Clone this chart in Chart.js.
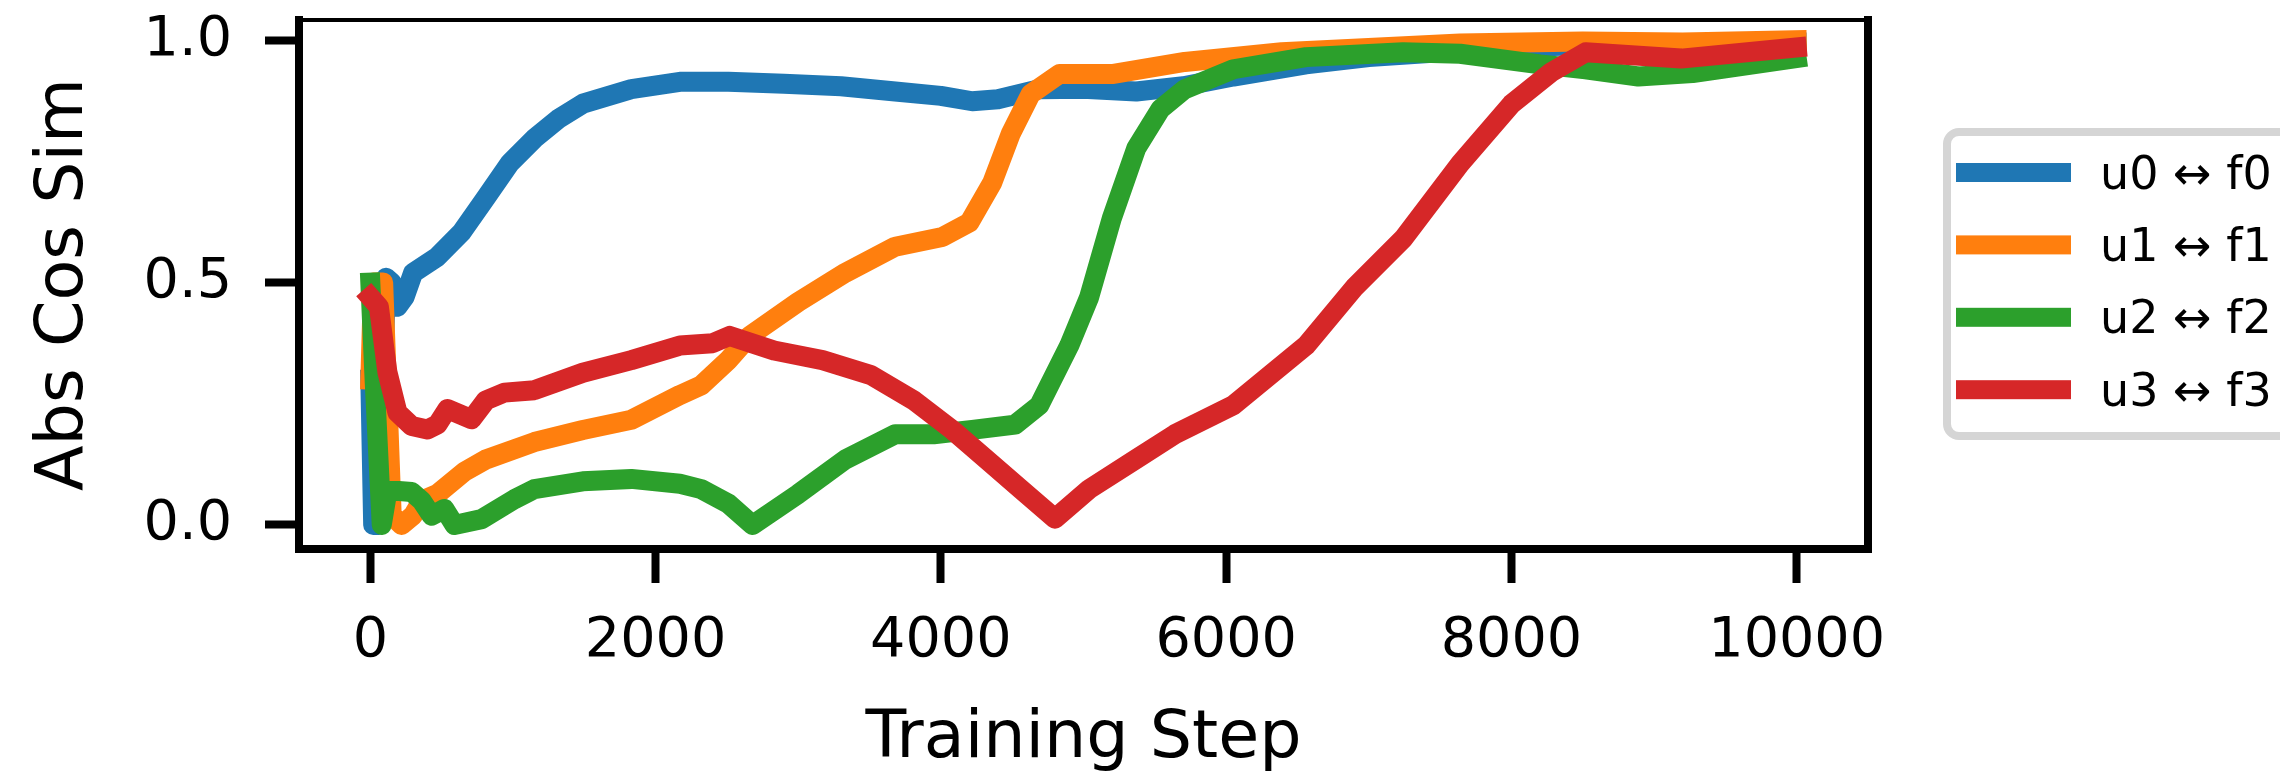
<!DOCTYPE html>
<html>
<head>
<meta charset="utf-8">
<script src="https://cdn.jsdelivr.net/npm/chart.js@4/dist/chart.umd.min.js"></script>
<style>
  body { margin: 0; background: #fff; }
  canvas { display: block; }
</style>
</head>
<body>
<canvas id="simChart" width="2280" height="776"></canvas>
<script>
// data
const seriesLabels = ['u0 \u2194 f0', 'u1 \u2194 f1', 'u2 \u2194 f2', 'u3 \u2194 f3'];
const seriesColors = ['#1f77b4', '#ff7f0e', '#2ca02c', '#d62728'];

const u0Steps = [0, 20, 60, 110, 150, 190, 240, 300, 470, 640, 810, 980, 1150, 1320, 1490, 1830, 2170, 2510, 2900, 3300, 3680, 4000, 4220, 4400, 4690, 5000, 5370, 5700, 6050, 6560, 7000, 7500, 8000, 8500, 9000, 9500, 10000];
const u0Vals  = [0.30, 0.0, 0.0, 0.51, 0.50, 0.45, 0.47, 0.52, 0.553, 0.604, 0.675, 0.747, 0.797, 0.838, 0.869, 0.899, 0.914, 0.914, 0.91, 0.905, 0.894, 0.885, 0.874, 0.878, 0.899, 0.90, 0.894, 0.905, 0.925, 0.95, 0.965, 0.975, 0.985, 0.99, 0.99, 0.992, 0.995];

const u1Steps = [0, 20, 90, 150, 220, 300, 360, 470, 660, 810, 1150, 1490, 1830, 2170, 2320, 2510, 2660, 3000, 3330, 3680, 4010, 4200, 4360, 4490, 4630, 4830, 5200, 5710, 6390, 7070, 7640, 8500, 9200, 10000];
const u1Vals  = [0.30, 0.50, 0.50, 0.02, 0.0, 0.02, 0.05, 0.064, 0.11, 0.135, 0.171, 0.196, 0.217, 0.268, 0.288, 0.34, 0.39, 0.46, 0.52, 0.574, 0.594, 0.624, 0.706, 0.807, 0.889, 0.93, 0.93, 0.955, 0.975, 0.985, 0.993, 0.997, 0.995, 1.0];

const u2Steps = [0, 30, 80, 120, 200, 290, 360, 430, 520, 590, 780, 1010, 1150, 1490, 1830, 2170, 2320, 2510, 2680, 3000, 3330, 3680, 3950, 4220, 4520, 4690, 4900, 5040, 5200, 5370, 5540, 5710, 6050, 6560, 7240, 7640, 8200, 8520, 8890, 9270, 10000];
const u2Vals  = [0.50, 0.30, 0.0, 0.07, 0.07, 0.068, 0.05, 0.019, 0.033, 0.0, 0.012, 0.053, 0.074, 0.09, 0.095, 0.085, 0.074, 0.044, 0.0, 0.064, 0.135, 0.187, 0.187, 0.196, 0.207, 0.247, 0.37, 0.47, 0.634, 0.777, 0.858, 0.899, 0.94, 0.965, 0.975, 0.972, 0.95, 0.94, 0.925, 0.932, 0.963];

const u3Steps = [0, 60, 120, 190, 290, 400, 470, 540, 710, 810, 940, 1150, 1490, 1830, 2170, 2400, 2520, 2830, 3170, 3510, 3810, 4080, 4360, 4560, 4800, 5040, 5370, 5640, 6050, 6560, 6900, 7240, 7640, 8000, 8280, 8520, 9190, 10000];
const u3Vals  = [0.47, 0.45, 0.315, 0.232, 0.204, 0.197, 0.207, 0.239, 0.218, 0.257, 0.273, 0.278, 0.314, 0.34, 0.37, 0.375, 0.39, 0.36, 0.34, 0.309, 0.257, 0.196, 0.125, 0.074, 0.013, 0.074, 0.136, 0.187, 0.247, 0.37, 0.49, 0.59, 0.745, 0.868, 0.934, 0.975, 0.962, 0.985];

const xTicks = [0, 2000, 4000, 6000, 8000, 10000];
const yTicks = [0.0, 0.5, 1.0];

const allSteps = [u0Steps, u1Steps, u2Steps, u3Steps];
const allVals = [u0Vals, u1Vals, u2Vals, u3Vals];

function toPoints(steps, vals) {
  return steps.map((s, i) => ({ x: s, y: vals[i] }));
}

Chart.defaults.font.family = 'DejaVu Sans';
Chart.defaults.color = '#000';

// matplotlib style box round the axes
const framePlugin = {
  id: 'frame',
  afterDatasetsDraw(chart) {
    const { ctx, chartArea: a } = chart;
    ctx.save();
    ctx.strokeStyle = '#000';
    ctx.lineCap = 'square';
    ctx.lineWidth = 8;
    ctx.beginPath();
    ctx.moveTo(a.left, a.top);
    ctx.lineTo(a.left, a.bottom);
    ctx.lineTo(a.right, a.bottom);
    ctx.lineTo(a.right, a.top);
    ctx.stroke();
    ctx.lineWidth = 4;
    ctx.beginPath();
    ctx.moveTo(a.left, a.top);
    ctx.lineTo(a.right, a.top);
    ctx.stroke();
    ctx.restore();
  }
};

// legend outside the axes, cut by the right edge like the reference
const legendPlugin = {
  id: 'sideLegend',
  afterDraw(chart) {
    const ctx = chart.ctx;
    const bx = 1947, by = 132, bw = 400, bh = 304, r = 12;
    ctx.save();
    ctx.fillStyle = '#fff';
    ctx.strokeStyle = '#d5d5d5';
    ctx.lineWidth = 8;
    ctx.beginPath();
    ctx.roundRect(bx, by, bw, bh, r);
    ctx.fill();
    ctx.stroke();
    ctx.font = '46px "DejaVu Sans"';
    ctx.textBaseline = 'alphabetic';
    ctx.textAlign = 'left';
    chart.data.datasets.forEach((ds, i) => {
      const cy = 172.5 + i * 72.4;
      ctx.fillStyle = ds.borderColor;
      ctx.fillRect(1956, cy - 9.5, 115, 19);
      ctx.fillStyle = '#000';
      ctx.fillText(ds.label, 2100, cy + 16);
    });
    ctx.restore();
  }
};

new Chart(document.getElementById('simChart'), {
  type: 'line',
  data: {
    datasets: seriesLabels.map((label, i) => ({
      label: label,
      data: toPoints(allSteps[i], allVals[i]),
      borderColor: seriesColors[i],
      backgroundColor: seriesColors[i],
      borderWidth: 20,
      borderCapStyle: 'square',
      borderJoinStyle: 'round',
      pointRadius: 0,
      tension: 0,
      fill: false,
      order: 3 - i
    }))
  },
  options: {
    responsive: false,
    animation: false,
    devicePixelRatio: 1,
    layout: { padding: { left: 0, top: 20, right: 412, bottom: 0 } },
    plugins: {
      legend: { display: false },
      tooltip: { enabled: false }
    },
    scales: {
      x: {
        type: 'linear',
        min: -500,
        max: 10500,
        afterFit(scale) {
          scale.height = 227;
          scale.paddingLeft = 0;
          scale.paddingRight = 0;
        },
        afterBuildTicks(scale) { scale.ticks = xTicks.map(v => ({ value: v })); },
        grid: { drawOnChartArea: false, drawTicks: true, tickLength: 34, tickWidth: 8, tickColor: '#000' },
        border: { display: false },
        ticks: {
          padding: 31,
          maxRotation: 0,
          font: { size: 55.6, lineHeight: 1 },
          callback: v => String(v)
        },
        title: {
          display: true,
          text: 'Training Step',
          font: { size: 66.7, lineHeight: 1 },
          padding: { top: 0, bottom: 2.7 }
        }
      },
      y: {
        type: 'linear',
        min: -0.0496,
        max: 1.0416,
        afterFit(scale) {
          scale.width = 299;
          scale.paddingTop = 0;
          scale.paddingBottom = 0;
        },
        afterBuildTicks(scale) { scale.ticks = yTicks.map(v => ({ value: v })); },
        grid: { drawOnChartArea: false, drawTicks: true, tickLength: 34, tickWidth: 8, tickColor: '#000' },
        border: { display: false },
        ticks: {
          padding: 33,
          font: { size: 55.6, lineHeight: 1 },
          callback: v => Number(v).toFixed(1)
        },
        title: {
          display: true,
          text: 'Abs Cos Sim',
          font: { size: 66.7, lineHeight: 1 },
          padding: { top: 31.7, bottom: 0 }
        }
      }
    }
  },
  plugins: [framePlugin, legendPlugin]
});
</script>
</body>
</html>
